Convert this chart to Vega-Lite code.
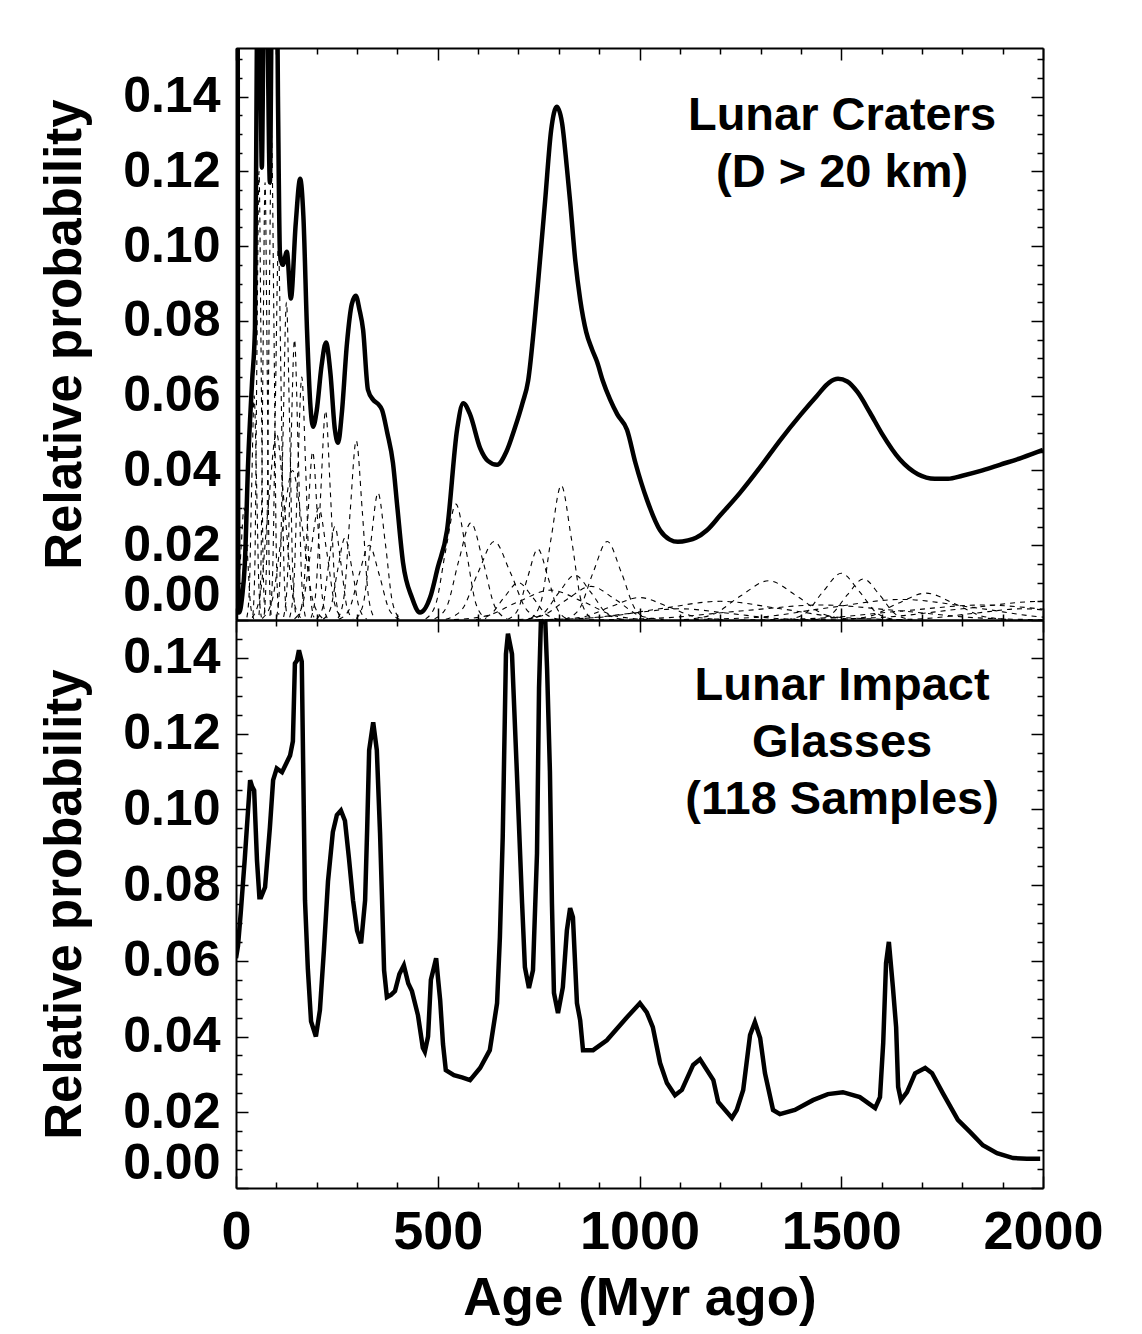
{
"$schema":"https://vega.github.io/schema/vega-lite/v6.json",
"padding":{"left":39,"top":47,"right":5,"bottom":5},
"background":"white",
"config":{"view":{"stroke":null},"axis":{"grid":false,"tickColor":"black","domainColor":"black","labelColor":"black","titleColor":"black","labelFont":"Liberation Sans","titleFont":"Liberation Sans","labelFontWeight":"bold","titleFontWeight":"bold","labelOverlap":false,"labelBound":false,"tickWidth":1.5,"domainWidth":2}},
"datasets":{
"crater":[{"a":0,"p":0},{"a":1.5,"p":0.25},{"a":3.5,"p":0.25},{"a":5.5,"p":0.01},{"a":8,"p":0.002},{"a":15,"p":0.006},{"a":22,"p":0.0153},{"a":30,"p":0.042},{"a":40,"p":0.064},{"a":47,"p":0.078},{"a":52,"p":0.16},{"a":56,"p":0.2},{"a":60,"p":0.16},{"a":64,"p":0.121},{"a":68,"p":0.16},{"a":72,"p":0.2},{"a":78,"p":0.16},{"a":84,"p":0.117},{"a":88,"p":0.16},{"a":93,"p":0.2},{"a":99,"p":0.2},{"a":104,"p":0.14},{"a":109,"p":0.098},{"a":116,"p":0.095},{"a":126,"p":0.0985},{"a":136,"p":0.086},{"a":148,"p":0.106},{"a":159,"p":0.118},{"a":167,"p":0.108},{"a":176,"p":0.0776},{"a":184,"p":0.058},{"a":191,"p":0.0517},{"a":200,"p":0.056},{"a":212,"p":0.068},{"a":223,"p":0.0742},{"a":234,"p":0.066},{"a":245,"p":0.051},{"a":253,"p":0.0474},{"a":262,"p":0.055},{"a":275,"p":0.074},{"a":287,"p":0.0845},{"a":297,"p":0.0867},{"a":306,"p":0.083},{"a":315,"p":0.0776},{"a":327,"p":0.0616},{"a":340,"p":0.0589},{"a":352,"p":0.0578},{"a":362,"p":0.0562},{"a":375,"p":0.05},{"a":389,"p":0.042},{"a":400,"p":0.03},{"a":414,"p":0.0153},{"a":436,"p":0.006},{"a":456,"p":0.002},{"a":481,"p":0.006},{"a":500,"p":0.014},{"a":523,"p":0.024},{"a":548,"p":0.051},{"a":563,"p":0.058},{"a":580,"p":0.055},{"a":605,"p":0.046},{"a":625,"p":0.0425},{"a":647,"p":0.0415},{"a":670,"p":0.045},{"a":690,"p":0.051},{"a":710,"p":0.058},{"a":724,"p":0.064},{"a":740,"p":0.08},{"a":750,"p":0.092},{"a":766,"p":0.112},{"a":781,"p":0.131},{"a":795,"p":0.1373},{"a":808,"p":0.133},{"a":820,"p":0.121},{"a":828,"p":0.112},{"a":841,"p":0.096},{"a":853,"p":0.0857},{"a":868,"p":0.077},{"a":882,"p":0.0725},{"a":895,"p":0.069},{"a":909,"p":0.064},{"a":927,"p":0.059},{"a":945,"p":0.055},{"a":969,"p":0.0509},{"a":990,"p":0.042},{"a":1019,"p":0.032},{"a":1051,"p":0.024},{"a":1075,"p":0.0215},{"a":1095,"p":0.0209},{"a":1120,"p":0.0213},{"a":1140,"p":0.022},{"a":1167,"p":0.024},{"a":1200,"p":0.028},{"a":1249,"p":0.034},{"a":1300,"p":0.041},{"a":1348,"p":0.048},{"a":1400,"p":0.055},{"a":1440,"p":0.06},{"a":1470,"p":0.0635},{"a":1492,"p":0.0645},{"a":1515,"p":0.0638},{"a":1540,"p":0.061},{"a":1571,"p":0.0555},{"a":1600,"p":0.05},{"a":1645,"p":0.043},{"a":1690,"p":0.039},{"a":1732,"p":0.0378},{"a":1765,"p":0.0378},{"a":1800,"p":0.0386},{"a":1850,"p":0.04},{"a":1893,"p":0.0415},{"a":1950,"p":0.0435},{"a":2000,"p":0.0455}],
"comp":[
{"k":"d1","a":-0.6,"p":0.0028},{"k":"d1","a":0.6,"p":0.0338},{"k":"d1","a":1.8,"p":0.1518},{"k":"d1","a":3,"p":0.25},{"k":"d1","a":4.2,"p":0.1518},{"k":"d1","a":5.4,"p":0.0338},{"k":"d1","a":6.6,"p":0.0028},
{"k":"d2","a":-4,"p":0.0003},{"k":"d2","a":4,"p":0.0041},{"k":"d2","a":12,"p":0.0182},{"k":"d2","a":20,"p":0.03},{"k":"d2","a":28,"p":0.0182},{"k":"d2","a":36,"p":0.0041},{"k":"d2","a":44,"p":0.0003},
{"k":"d3","a":27,"p":0.0007},{"k":"d3","a":33,"p":0.0081},{"k":"d3","a":39,"p":0.0364},{"k":"d3","a":45,"p":0.06},{"k":"d3","a":51,"p":0.0364},{"k":"d3","a":57,"p":0.0081},{"k":"d3","a":63,"p":0.0007},
{"k":"d4","a":42,"p":0.0013},{"k":"d4","a":47,"p":0.0162},{"k":"d4","a":52,"p":0.0728},{"k":"d4","a":57,"p":0.12},{"k":"d4","a":62,"p":0.0728},{"k":"d4","a":67,"p":0.0162},{"k":"d4","a":72,"p":0.0013},
{"k":"d5","a":57,"p":0.0013},{"k":"d5","a":62,"p":0.0158},{"k":"d5","a":67,"p":0.071},{"k":"d5","a":72,"p":0.117},{"k":"d5","a":77,"p":0.071},{"k":"d5","a":82,"p":0.0158},{"k":"d5","a":87,"p":0.0013},
{"k":"d6","a":70,"p":0.0014},{"k":"d6","a":76,"p":0.0176},{"k":"d6","a":82,"p":0.0789},{"k":"d6","a":88,"p":0.13},{"k":"d6","a":94,"p":0.0789},{"k":"d6","a":100,"p":0.0176},{"k":"d6","a":106,"p":0.0014},
{"k":"d7","a":84,"p":0.0011},{"k":"d7","a":91,"p":0.0135},{"k":"d7","a":98,"p":0.0607},{"k":"d7","a":105,"p":0.1},{"k":"d7","a":112,"p":0.0607},{"k":"d7","a":119,"p":0.0135},{"k":"d7","a":126,"p":0.0011},
{"k":"d8","a":101,"p":0.0009},{"k":"d8","a":109,"p":0.0115},{"k":"d8","a":117,"p":0.0516},{"k":"d8","a":125,"p":0.085},{"k":"d8","a":133,"p":0.0516},{"k":"d8","a":141,"p":0.0115},{"k":"d8","a":149,"p":0.0009},
{"k":"d9","a":118,"p":0.0008},{"k":"d9","a":127,"p":0.0101},{"k":"d9","a":136,"p":0.0455},{"k":"d9","a":145,"p":0.075},{"k":"d9","a":154,"p":0.0455},{"k":"d9","a":163,"p":0.0101},{"k":"d9","a":172,"p":0.0008},
{"k":"d10","a":133,"p":0.0007},{"k":"d10","a":143,"p":0.0088},{"k":"d10","a":153,"p":0.0395},{"k":"d10","a":163,"p":0.065},{"k":"d10","a":173,"p":0.0395},{"k":"d10","a":183,"p":0.0088},{"k":"d10","a":193,"p":0.0007},
{"k":"d11","a":154,"p":0.0005},{"k":"d11","a":166,"p":0.0061},{"k":"d11","a":178,"p":0.0273},{"k":"d11","a":190,"p":0.045},{"k":"d11","a":202,"p":0.0273},{"k":"d11","a":214,"p":0.0061},{"k":"d11","a":226,"p":0.0005},
{"k":"d12","a":186,"p":0.0006},{"k":"d12","a":198,"p":0.0076},{"k":"d12","a":210,"p":0.034},{"k":"d12","a":222,"p":0.056},{"k":"d12","a":234,"p":0.034},{"k":"d12","a":246,"p":0.0076},{"k":"d12","a":258,"p":0.0006},
{"k":"d13","a":200,"p":0.0003},{"k":"d13","a":215,"p":0.0034},{"k":"d13","a":230,"p":0.0152},{"k":"d13","a":245,"p":0.025},{"k":"d13","a":260,"p":0.0152},{"k":"d13","a":275,"p":0.0034},{"k":"d13","a":290,"p":0.0003},
{"k":"d14","a":216,"p":0.0002},{"k":"d14","a":234,"p":0.003},{"k":"d14","a":252,"p":0.0134},{"k":"d14","a":270,"p":0.022},{"k":"d14","a":288,"p":0.0134},{"k":"d14","a":306,"p":0.003},{"k":"d14","a":324,"p":0.0002},
{"k":"d15","a":253,"p":0.0005},{"k":"d15","a":268,"p":0.0065},{"k":"d15","a":283,"p":0.0291},{"k":"d15","a":298,"p":0.048},{"k":"d15","a":313,"p":0.0291},{"k":"d15","a":328,"p":0.0065},{"k":"d15","a":343,"p":0.0005},
{"k":"d16","a":298,"p":0.0004},{"k":"d16","a":316,"p":0.0046},{"k":"d16","a":334,"p":0.0206},{"k":"d16","a":352,"p":0.034},{"k":"d16","a":370,"p":0.0206},{"k":"d16","a":388,"p":0.0046},{"k":"d16","a":406,"p":0.0004},
{"k":"d17","a":255,"p":0.0002},{"k":"d17","a":280,"p":0.0027},{"k":"d17","a":305,"p":0.0121},{"k":"d17","a":330,"p":0.02},{"k":"d17","a":355,"p":0.0121},{"k":"d17","a":380,"p":0.0027},{"k":"d17","a":405,"p":0.0002},
{"k":"d18","a":145,"p":0.0003},{"k":"d18","a":165,"p":0.0041},{"k":"d18","a":185,"p":0.0182},{"k":"d18","a":205,"p":0.03},{"k":"d18","a":225,"p":0.0182},{"k":"d18","a":245,"p":0.0041},{"k":"d18","a":265,"p":0.0003},
{"k":"d19","a":65,"p":0.0004},{"k":"d19","a":90,"p":0.0054},{"k":"d19","a":115,"p":0.0243},{"k":"d19","a":140,"p":0.04},{"k":"d19","a":165,"p":0.0243},{"k":"d19","a":190,"p":0.0054},{"k":"d19","a":215,"p":0.0004},
{"k":"d20","a":40,"p":0.0006},{"k":"d20","a":60,"p":0.0068},{"k":"d20","a":80,"p":0.0304},{"k":"d20","a":100,"p":0.05},{"k":"d20","a":120,"p":0.0304},{"k":"d20","a":140,"p":0.0068},{"k":"d20","a":160,"p":0.0006},
{"k":"d21","a":470,"p":0.0003},{"k":"d21","a":495,"p":0.0042},{"k":"d21","a":520,"p":0.0188},{"k":"d21","a":545,"p":0.031},{"k":"d21","a":570,"p":0.0188},{"k":"d21","a":595,"p":0.0042},{"k":"d21","a":620,"p":0.0003},
{"k":"d22","a":492,"p":0.0003},{"k":"d22","a":522,"p":0.0035},{"k":"d22","a":552,"p":0.0158},{"k":"d22","a":582,"p":0.026},{"k":"d22","a":612,"p":0.0158},{"k":"d22","a":642,"p":0.0035},{"k":"d22","a":672,"p":0.0003},
{"k":"d23","a":520,"p":0.0002},{"k":"d23","a":560,"p":0.0028},{"k":"d23","a":600,"p":0.0127},{"k":"d23","a":640,"p":0.021},{"k":"d23","a":680,"p":0.0127},{"k":"d23","a":720,"p":0.0028},{"k":"d23","a":760,"p":0.0002},
{"k":"d24","a":595,"p":0.0001},{"k":"d24","a":630,"p":0.0014},{"k":"d24","a":665,"p":0.0061},{"k":"d24","a":700,"p":0.01},{"k":"d24","a":735,"p":0.0061},{"k":"d24","a":770,"p":0.0014},{"k":"d24","a":805,"p":0.0001},
{"k":"d25","a":673,"p":0.0002},{"k":"d25","a":698,"p":0.0026},{"k":"d25","a":723,"p":0.0115},{"k":"d25","a":748,"p":0.019},{"k":"d25","a":773,"p":0.0115},{"k":"d25","a":798,"p":0.0026},{"k":"d25","a":823,"p":0.0002},
{"k":"d26","a":731,"p":0.0004},{"k":"d26","a":756,"p":0.0049},{"k":"d26","a":781,"p":0.0219},{"k":"d26","a":806,"p":0.036},{"k":"d26","a":831,"p":0.0219},{"k":"d26","a":856,"p":0.0049},{"k":"d26","a":881,"p":0.0004},
{"k":"d27","a":720,"p":0.0001},{"k":"d27","a":760,"p":0.0016},{"k":"d27","a":800,"p":0.0073},{"k":"d27","a":840,"p":0.012},{"k":"d27","a":880,"p":0.0073},{"k":"d27","a":920,"p":0.0016},{"k":"d27","a":960,"p":0.0001},
{"k":"d28","a":815,"p":0.0002},{"k":"d28","a":850,"p":0.0028},{"k":"d28","a":885,"p":0.0127},{"k":"d28","a":920,"p":0.021},{"k":"d28","a":955,"p":0.0127},{"k":"d28","a":990,"p":0.0028},{"k":"d28","a":1025,"p":0.0002},
{"k":"d29","a":700,"p":0.0001},{"k":"d29","a":760,"p":0.0012},{"k":"d29","a":820,"p":0.0055},{"k":"d29","a":880,"p":0.009},{"k":"d29","a":940,"p":0.0055},{"k":"d29","a":1000,"p":0.0012},{"k":"d29","a":1060,"p":0.0001},
{"k":"d30","a":790,"p":0.0001},{"k":"d30","a":860,"p":0.0008},{"k":"d30","a":930,"p":0.0036},{"k":"d30","a":1000,"p":0.006},{"k":"d30","a":1070,"p":0.0036},{"k":"d30","a":1140,"p":0.0008},{"k":"d30","a":1210,"p":0.0001},
{"k":"d31","a":1110,"p":0.0001},{"k":"d31","a":1180,"p":0.0014},{"k":"d31","a":1250,"p":0.0064},{"k":"d31","a":1320,"p":0.0105},{"k":"d31","a":1390,"p":0.0064},{"k":"d31","a":1460,"p":0.0014},{"k":"d31","a":1530,"p":0.0001},
{"k":"d32","a":1365,"p":0.0001},{"k":"d32","a":1410,"p":0.0017},{"k":"d32","a":1455,"p":0.0076},{"k":"d32","a":1500,"p":0.0125},{"k":"d32","a":1545,"p":0.0076},{"k":"d32","a":1590,"p":0.0017},{"k":"d32","a":1635,"p":0.0001},
{"k":"d33","a":1435,"p":0.0001},{"k":"d33","a":1475,"p":0.0015},{"k":"d33","a":1515,"p":0.0067},{"k":"d33","a":1555,"p":0.011},{"k":"d33","a":1595,"p":0.0067},{"k":"d33","a":1635,"p":0.0015},{"k":"d33","a":1675,"p":0.0001},
{"k":"d34","a":1500,"p":0.0001},{"k":"d34","a":1570,"p":0.001},{"k":"d34","a":1640,"p":0.0044},{"k":"d34","a":1710,"p":0.0072},{"k":"d34","a":1780,"p":0.0044},{"k":"d34","a":1850,"p":0.001},{"k":"d34","a":1920,"p":0.0001},
{"k":"d35","a":750,"p":0.0001},{"k":"d35","a":900,"p":0.0007},{"k":"d35","a":1050,"p":0.003},{"k":"d35","a":1200,"p":0.005},{"k":"d35","a":1350,"p":0.003},{"k":"d35","a":1500,"p":0.0007},{"k":"d35","a":1650,"p":0.0001},
{"k":"d36","a":850,"p":0},{"k":"d36","a":1050,"p":0.0005},{"k":"d36","a":1250,"p":0.0024},{"k":"d36","a":1450,"p":0.004},{"k":"d36","a":1650,"p":0.0024},{"k":"d36","a":1850,"p":0.0005},{"k":"d36","a":2050,"p":0},
{"k":"d37","a":1110,"p":0.0001},{"k":"d37","a":1290,"p":0.0007},{"k":"d37","a":1470,"p":0.0033},{"k":"d37","a":1650,"p":0.0055},{"k":"d37","a":1830,"p":0.0033},{"k":"d37","a":2010,"p":0.0007},{"k":"d37","a":2190,"p":0.0001},
{"k":"d38","a":1250,"p":0},{"k":"d38","a":1450,"p":0.0005},{"k":"d38","a":1650,"p":0.0024},{"k":"d38","a":1850,"p":0.004},{"k":"d38","a":2050,"p":0.0024},{"k":"d38","a":2250,"p":0.0005},{"k":"d38","a":2450,"p":0},
{"k":"d39","a":1400,"p":0.0001},{"k":"d39","a":1600,"p":0.0007},{"k":"d39","a":1800,"p":0.003},{"k":"d39","a":2000,"p":0.005},{"k":"d39","a":2200,"p":0.003},{"k":"d39","a":2400,"p":0.0007},{"k":"d39","a":2600,"p":0.0001},
{"k":"d40","a":740,"p":0},{"k":"d40","a":860,"p":0.0004},{"k":"d40","a":980,"p":0.0018},{"k":"d40","a":1100,"p":0.003},{"k":"d40","a":1220,"p":0.0018},{"k":"d40","a":1340,"p":0.0004},{"k":"d40","a":1460,"p":0},
{"k":"d41","a":540,"p":0.0001},{"k":"d41","a":620,"p":0.0011},{"k":"d41","a":700,"p":0.0049},{"k":"d41","a":780,"p":0.008},{"k":"d41","a":860,"p":0.0049},{"k":"d41","a":940,"p":0.0011},{"k":"d41","a":1020,"p":0.0001},
{"k":"d42","a":1590,"p":0},{"k":"d42","a":1710,"p":0.0004},{"k":"d42","a":1830,"p":0.0018},{"k":"d42","a":1950,"p":0.003},{"k":"d42","a":2070,"p":0.0018},{"k":"d42","a":2190,"p":0.0004},{"k":"d42","a":2310,"p":0}
],
"glass":[{"a":0,"p":0.0607},{"a":5,"p":0.064},{"a":12,"p":0.073},{"a":22,"p":0.0873},{"a":30,"p":0.1},{"a":35,"p":0.1077},{"a":40,"p":0.106},{"a":45,"p":0.105},{"a":52,"p":0.0865},{"a":58,"p":0.0768},{"a":62,"p":0.0768},{"a":72,"p":0.0794},{"a":84,"p":0.0952},{"a":92,"p":0.1077},{"a":101,"p":0.1108},{"a":114,"p":0.1098},{"a":134,"p":0.1142},{"a":141,"p":0.118},{"a":146,"p":0.1385},{"a":151,"p":0.1393},{"a":156,"p":0.142},{"a":163,"p":0.139},{"a":171,"p":0.076},{"a":178,"p":0.058},{"a":186,"p":0.044},{"a":198,"p":0.04},{"a":208,"p":0.047},{"a":218,"p":0.063},{"a":228,"p":0.081},{"a":240,"p":0.094},{"a":250,"p":0.0985},{"a":260,"p":0.0997},{"a":270,"p":0.097},{"a":280,"p":0.087},{"a":290,"p":0.076},{"a":300,"p":0.068},{"a":310,"p":0.0646},{"a":320,"p":0.076},{"a":325,"p":0.0945},{"a":330,"p":0.1156},{"a":340,"p":0.123},{"a":349,"p":0.1156},{"a":357,"p":0.0937},{"a":362,"p":0.076},{"a":367,"p":0.0575},{"a":374,"p":0.0504},{"a":384,"p":0.051},{"a":394,"p":0.052},{"a":405,"p":0.0565},{"a":416,"p":0.0588},{"a":427,"p":0.054},{"a":436,"p":0.052},{"a":451,"p":0.0456},{"a":463,"p":0.037},{"a":468,"p":0.036},{"a":476,"p":0.04},{"a":483,"p":0.055},{"a":490,"p":0.058},{"a":496,"p":0.0607},{"a":501,"p":0.055},{"a":506,"p":0.0496},{"a":513,"p":0.038},{"a":520,"p":0.0311},{"a":540,"p":0.0298},{"a":560,"p":0.0292},{"a":580,"p":0.0285},{"a":605,"p":0.0317},{"a":629,"p":0.0364},{"a":647,"p":0.0488},{"a":654,"p":0.0662},{"a":661,"p":0.0926},{"a":669,"p":0.141},{"a":674,"p":0.1464},{"a":684,"p":0.141},{"a":696,"p":0.11},{"a":709,"p":0.0752},{"a":716,"p":0.0583},{"a":726,"p":0.0528},{"a":736,"p":0.0575},{"a":746,"p":0.0884},{"a":751,"p":0.132},{"a":756,"p":0.151},{"a":766,"p":0.151},{"a":771,"p":0.137},{"a":778,"p":0.11},{"a":783,"p":0.0752},{"a":788,"p":0.0515},{"a":798,"p":0.0462},{"a":810,"p":0.053},{"a":820,"p":0.068},{"a":828,"p":0.0739},{"a":835,"p":0.0715},{"a":845,"p":0.0488},{"a":853,"p":0.0443},{"a":860,"p":0.0364},{"a":885,"p":0.0364},{"a":919,"p":0.039},{"a":969,"p":0.0451},{"a":1001,"p":0.0488},{"a":1018,"p":0.0464},{"a":1033,"p":0.0425},{"a":1051,"p":0.033},{"a":1068,"p":0.0277},{"a":1088,"p":0.0245},{"a":1105,"p":0.0259},{"a":1133,"p":0.0325},{"a":1150,"p":0.034},{"a":1183,"p":0.0285},{"a":1195,"p":0.0227},{"a":1229,"p":0.0185},{"a":1241,"p":0.0206},{"a":1257,"p":0.0259},{"a":1274,"p":0.0404},{"a":1286,"p":0.0438},{"a":1299,"p":0.0396},{"a":1311,"p":0.0303},{"a":1331,"p":0.0206},{"a":1348,"p":0.0195},{"a":1385,"p":0.0206},{"a":1430,"p":0.0232},{"a":1467,"p":0.0248},{"a":1504,"p":0.0253},{"a":1546,"p":0.024},{"a":1584,"p":0.0211},{"a":1596,"p":0.024},{"a":1604,"p":0.0383},{"a":1611,"p":0.0594},{"a":1618,"p":0.065},{"a":1628,"p":0.053},{"a":1636,"p":0.0425},{"a":1641,"p":0.0267},{"a":1648,"p":0.0232},{"a":1663,"p":0.0253},{"a":1683,"p":0.0303},{"a":1708,"p":0.0317},{"a":1725,"p":0.0303},{"a":1752,"p":0.025},{"a":1789,"p":0.018},{"a":1819,"p":0.0148},{"a":1851,"p":0.0113},{"a":1886,"p":0.0092},{"a":1926,"p":0.0079},{"a":1960,"p":0.0077},{"a":1993,"p":0.0077}]
},
"vconcat":[
{
"width":807,"height":572,
"resolve":{"axis":{"x":"independent","y":"independent"}},
"layer":[
{"data":{"name":"comp"},"mark":{"type":"line","color":"black","strokeWidth":1.1,"strokeDash":[5,5],"interpolate":"monotone","clip":true},
 "encoding":{"detail":{"field":"k"},
  "x":{"field":"a","type":"quantitative","scale":{"domain":[0,2000],"nice":false,"zero":false},"axis":{"orient":"bottom","values":[100,200,300,400,600,700,800,900,1100,1200,1300,1400,1600,1700,1800,1900],"tickSize":-6,"labels":false,"domain":false,"title":null}},
  "y":{"field":"p","type":"quantitative","scale":{"domain":[0,0.153],"nice":false,"zero":false},"axis":{"orient":"left","values":[0.005,0.01,0.015,0.025,0.03,0.035,0.045,0.05,0.055,0.065,0.07,0.075,0.085,0.09,0.095,0.105,0.11,0.115,0.125,0.13,0.135,0.145,0.15],"tickSize":-6,"labels":false,"domain":false,"title":null}}}},
{"data":{"name":"crater"},"mark":{"type":"line","color":"black","strokeWidth":4.5,"interpolate":"monotone","clip":true},
 "encoding":{
  "x":{"field":"a","type":"quantitative","scale":{"domain":[0,2000],"nice":false,"zero":false},"axis":{"orient":"bottom","values":[0,500,1000,1500,2000],"tickSize":-12,"labels":false,"domain":true,"title":null}},
  "y":{"field":"p","type":"quantitative","scale":{"domain":[0,0.153],"nice":false,"zero":false},"axis":{"orient":"left","values":[0,0.02,0.04,0.06,0.08,0.1,0.12,0.14],"format":".2f","tickSize":-12,"labelFlush":true,"labelFontSize":50,"labelPadding":28,"domain":true,"title":"Relative probability","titleFontSize":51,"titlePadding":31}}}},
{"data":{"name":"crater"},"mark":{"type":"line","color":"black","strokeOpacity":0,"clip":true},
 "encoding":{
  "x":{"field":"a","type":"quantitative","scale":{"domain":[0,2000],"nice":false,"zero":false},"axis":{"orient":"top","values":[0,500,1000,1500,2000],"tickSize":-12,"labels":false,"domain":true,"title":null}},
  "y":{"field":"p","type":"quantitative","scale":{"domain":[0,0.153],"nice":false,"zero":false},"axis":{"orient":"right","values":[0,0.02,0.04,0.06,0.08,0.1,0.12,0.14],"tickSize":-12,"labels":false,"domain":true,"title":null}}}},
{"data":{"name":"crater"},"mark":{"type":"line","color":"black","strokeOpacity":0,"clip":true},
 "encoding":{
  "x":{"field":"a","type":"quantitative","scale":{"domain":[0,2000],"nice":false,"zero":false},"axis":{"orient":"top","values":[100,200,300,400,600,700,800,900,1100,1200,1300,1400,1600,1700,1800,1900],"tickSize":-6,"labels":false,"domain":false,"title":null}},
  "y":{"field":"p","type":"quantitative","scale":{"domain":[0,0.153],"nice":false,"zero":false},"axis":{"orient":"right","values":[0.005,0.01,0.015,0.025,0.03,0.035,0.045,0.05,0.055,0.065,0.07,0.075,0.085,0.09,0.095,0.105,0.11,0.115,0.125,0.13,0.135,0.145,0.15],"tickSize":-6,"labels":false,"domain":false,"title":null}}}},
{"data":{"values":[{}]},"mark":{"type":"text","text":["Lunar Craters","(D > 20 km)"],"font":"Liberation Sans","fontWeight":"bold","fontSize":47,"lineHeight":57,"align":"center","baseline":"alphabetic","color":"black"},
 "encoding":{"x":{"datum":1502,"type":"quantitative","axis":null},"y":{"datum":0.1312,"type":"quantitative","axis":null}}}
]},
{
"width":807,"height":568,
"resolve":{"axis":{"x":"independent","y":"independent"}},
"layer":[
{"data":{"name":"glass"},"mark":{"type":"line","color":"black","strokeWidth":4.5,"clip":true},
 "encoding":{
  "x":{"field":"a","type":"quantitative","scale":{"domain":[0,2000],"nice":false,"zero":false},"axis":{"orient":"bottom","values":[0,500,1000,1500,2000],"format":"d","tickSize":-12,"labels":true,"labelFlush":false,"labelFontSize":54,"labelPadding":29,"domain":true,"title":"Age (Myr ago)","titleFontSize":53,"titlePadding":13}},
  "y":{"field":"p","type":"quantitative","scale":{"domain":[0,0.15],"nice":false,"zero":false},"axis":{"orient":"left","values":[0,0.02,0.04,0.06,0.08,0.1,0.12,0.14],"format":".2f","tickSize":-12,"labelFlush":true,"labelFontSize":50,"labelPadding":28,"domain":true,"title":"Relative probability","titleFontSize":51,"titlePadding":31}}}},
{"data":{"name":"glass"},"mark":{"type":"line","color":"black","strokeOpacity":0,"clip":true},
 "encoding":{
  "x":{"field":"a","type":"quantitative","scale":{"domain":[0,2000],"nice":false,"zero":false},"axis":{"orient":"bottom","values":[100,200,300,400,600,700,800,900,1100,1200,1300,1400,1600,1700,1800,1900],"tickSize":-6,"labels":false,"domain":false,"title":null}},
  "y":{"field":"p","type":"quantitative","scale":{"domain":[0,0.15],"nice":false,"zero":false},"axis":{"orient":"left","values":[0.005,0.01,0.015,0.025,0.03,0.035,0.045,0.05,0.055,0.065,0.07,0.075,0.085,0.09,0.095,0.105,0.11,0.115,0.125,0.13,0.135,0.145],"tickSize":-6,"labels":false,"domain":false,"title":null}}}},
{"data":{"name":"glass"},"mark":{"type":"line","color":"black","strokeOpacity":0,"clip":true},
 "encoding":{
  "x":{"field":"a","type":"quantitative","scale":{"domain":[0,2000],"nice":false,"zero":false},"axis":{"orient":"top","values":[0,500,1000,1500,2000],"tickSize":-12,"labels":false,"domain":true,"title":null}},
  "y":{"field":"p","type":"quantitative","scale":{"domain":[0,0.15],"nice":false,"zero":false},"axis":{"orient":"right","values":[0,0.02,0.04,0.06,0.08,0.1,0.12,0.14],"tickSize":-12,"labels":false,"domain":true,"title":null}}}},
{"data":{"name":"glass"},"mark":{"type":"line","color":"black","strokeOpacity":0,"clip":true},
 "encoding":{
  "x":{"field":"a","type":"quantitative","scale":{"domain":[0,2000],"nice":false,"zero":false},"axis":{"orient":"top","values":[100,200,300,400,600,700,800,900,1100,1200,1300,1400,1600,1700,1800,1900],"tickSize":-6,"labels":false,"domain":false,"title":null}},
  "y":{"field":"p","type":"quantitative","scale":{"domain":[0,0.15],"nice":false,"zero":false},"axis":{"orient":"right","values":[0.005,0.01,0.015,0.025,0.03,0.035,0.045,0.05,0.055,0.065,0.07,0.075,0.085,0.09,0.095,0.105,0.11,0.115,0.125,0.13,0.135,0.145],"tickSize":-6,"labels":false,"domain":false,"title":null}}}},
{"data":{"values":[{}]},"mark":{"type":"text","text":["Lunar Impact","Glasses","(118 Samples)"],"font":"Liberation Sans","fontWeight":"bold","fontSize":47,"lineHeight":57,"align":"center","baseline":"alphabetic","color":"black"},
 "encoding":{"x":{"datum":1502,"type":"quantitative","axis":null},"y":{"datum":0.1288,"type":"quantitative","axis":null}}}
]}
],
"spacing":0,
"bounds":"flush"
}
